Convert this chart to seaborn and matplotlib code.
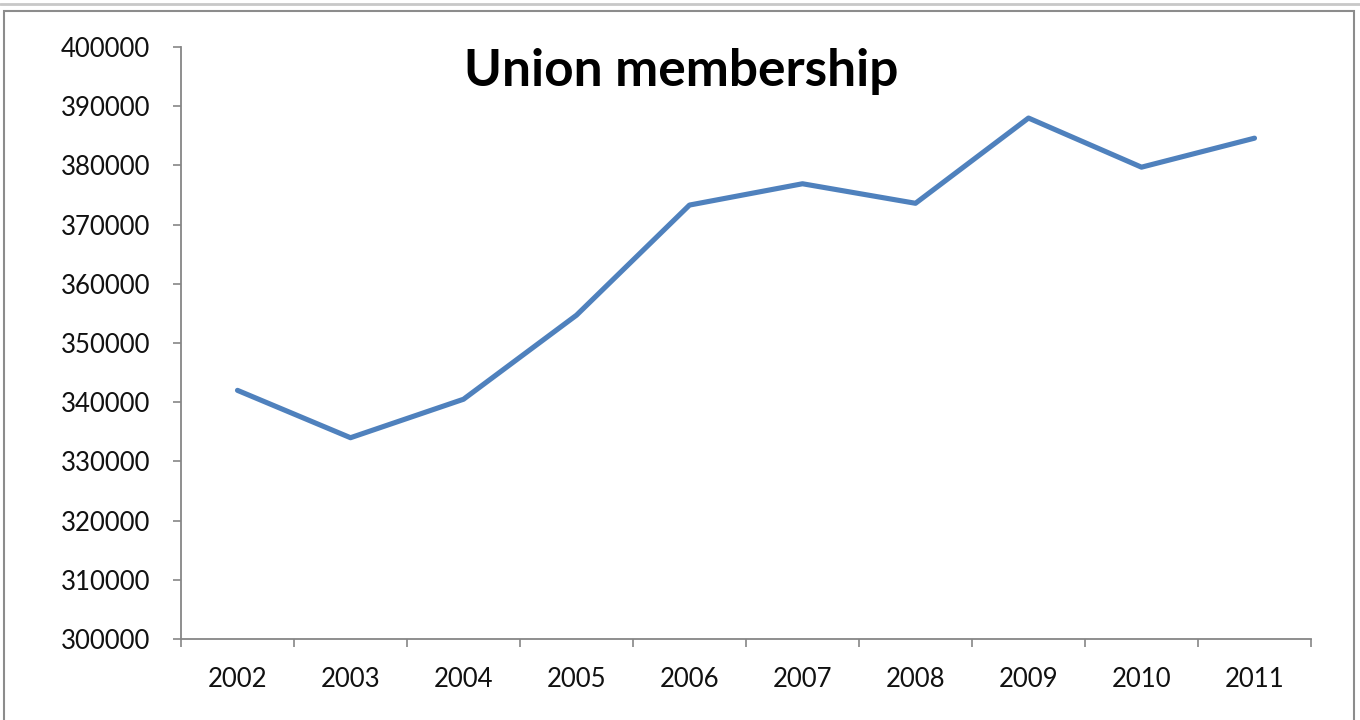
import matplotlib
matplotlib.use("Agg")
import matplotlib.pyplot as plt
import seaborn as sns
import pandas as pd
from matplotlib.patches import Rectangle
from matplotlib.lines import Line2D

years = ["2002", "2003", "2004", "2005", "2006", "2007", "2008", "2009", "2010", "2011"]
members = [342000, 334000, 340500, 354700, 373300, 376900, 373600, 388000, 379700, 384600]
y_ticks = [300000, 310000, 320000, 330000, 340000, 350000, 360000, 370000, 380000, 390000, 400000]
title = "Union membership"

sns.set_theme(style="white")
plt.rcParams["font.family"] = ["Lato", "DejaVu Sans"]

df = pd.DataFrame({"pos": list(range(len(years))), "members": members})

fig = plt.figure(figsize=(13.6, 7.2), dpi=100)
ax = fig.add_axes([181/1360, 1 - 639/720, (1311-181)/1360, (639-47)/720])

sns.lineplot(data=df, x="pos", y="members", ax=ax, color="#4F81BD", linewidth=3.7)

ax.set_xlim(-0.5, len(years) - 0.5)
ax.set_ylim(300000, 400000)
ax.set_yticks(y_ticks)
ax.set_yticklabels([str(v) for v in y_ticks], fontsize=18.5, color="#111111")
ax.set_xticks(range(len(years)))
ax.set_xticklabels(years, fontsize=18.5, color="#111111")
ax.set_xticks([i - 0.5 for i in range(len(years) + 1)], minor=True)
ax.tick_params(axis="x", which="major", length=0, pad=20)
ax.tick_params(axis="x", which="minor", length=6, width=1.2, color="#868686", direction="out", bottom=True)
ax.tick_params(axis="y", which="major", length=6, width=1.2, color="#868686", direction="out", left=True, pad=16)
ax.set_xlabel("")
ax.set_ylabel("")
for s in ["top", "right"]:
    ax.spines[s].set_visible(False)
for s in ["left", "bottom"]:
    ax.spines[s].set_color("#868686")
    ax.spines[s].set_linewidth(1.3)

fig.text(681/1360, 1 - 86/720, title, ha="center", va="baseline", fontsize=37, fontweight="bold", color="black")

# outer chart frame
fig.patches.append(Rectangle((4/1360, -0.01), (1354-4)/1360, 1 - 11/720 + 0.01,
                             transform=fig.transFigure, fill=False, edgecolor="#8c8c8c", linewidth=1.5))
fig.lines.append(Line2D([0, 1], [1 - 4/720, 1 - 4/720], transform=fig.transFigure, color="#c8c8c8", linewidth=2))

fig.savefig("out.png", dpi=100)
